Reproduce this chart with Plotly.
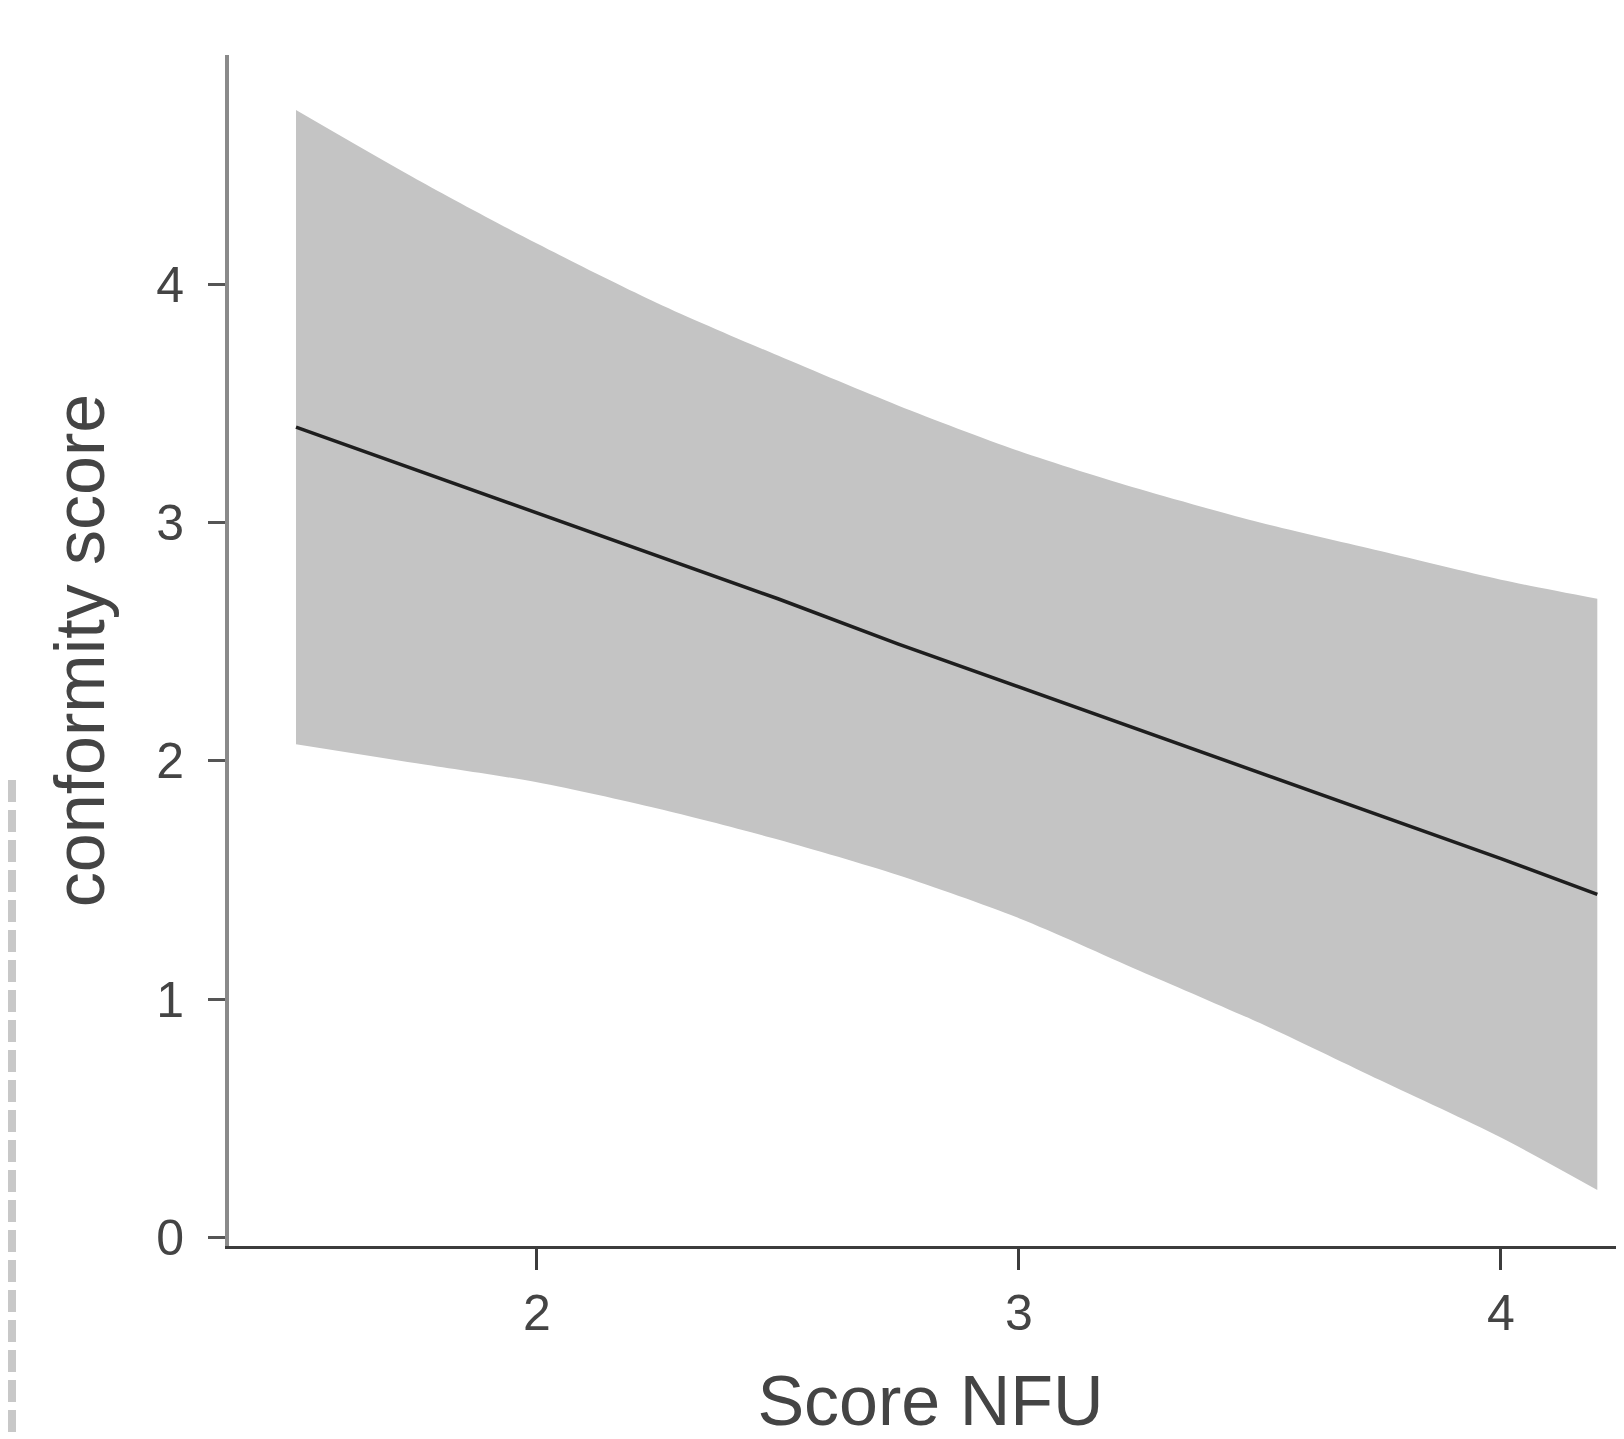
import plotly.graph_objects as go

# Values
nfu = [1.5, 1.75, 2.0, 2.25, 2.5, 2.75, 3.0, 3.25, 3.5, 3.75, 4.0, 4.2]
fit = [3.40, 3.22, 3.04, 2.86, 2.68, 2.49, 2.31, 2.13, 1.95, 1.77, 1.59, 1.44]
upper = [4.73, 4.44, 4.17, 3.92, 3.70, 3.49, 3.30, 3.14, 3.00, 2.88, 2.76, 2.68]
lower = [2.07, 1.99, 1.91, 1.80, 1.67, 1.52, 1.34, 1.12, 0.90, 0.66, 0.42, 0.20]

x_ticks = [2, 3, 4]
y_ticks = [0, 1, 2, 3, 4]

W, H = 1624, 1439
ML, MR, MT, MB = 221, 0, 47, 201

fig = go.Figure()
fig.add_trace(go.Scatter(
    x=nfu, y=lower, mode="lines",
    line=dict(width=0, shape="spline", smoothing=0.8),
    hoverinfo="skip", showlegend=False))
fig.add_trace(go.Scatter(
    x=nfu, y=upper, mode="lines", fill="tonexty", fillcolor="#C4C4C4",
    line=dict(width=0, shape="spline", smoothing=0.8),
    hoverinfo="skip", showlegend=False))
fig.add_trace(go.Scatter(
    x=nfu, y=fit, mode="lines",
    line=dict(color="#1e1e1e", width=3.5), showlegend=False))

font_family = "Liberation Sans, Arial, sans-serif"

fig.update_layout(
    width=W, height=H,
    margin=dict(l=ML, r=MR, t=MT, b=MB, autoexpand=False),
    paper_bgcolor="white", plot_bgcolor="white",
    font=dict(family=font_family, color="#444444"),
    xaxis=dict(
        range=[1.361, 4.272], tickvals=x_ticks, ticktext=[str(v) for v in x_ticks],
        showgrid=False, zeroline=False,
        showline=True, linecolor="#3c3c3c", linewidth=3,
        ticks="outside", ticklen=21, tickwidth=3, tickcolor="#3c3c3c",
        tickfont=dict(size=50, color="#444444", family=font_family),
        ticklabelstandoff=0,
        title=dict(text="Score NFU", font=dict(size=70, color="#444444", family=font_family),
                   standoff=36),
    ),
    yaxis=dict(
        range=[-0.035, 4.961], tickvals=y_ticks, ticktext=[str(v) for v in y_ticks],
        showgrid=False, zeroline=False,
        showline=True, linecolor="#8a8a8a", linewidth=4,
        ticks="outside", ticklen=17, tickwidth=3, tickcolor="#555555",
        tickfont=dict(size=50, color="#444444", family=font_family),
        ticklabelstandoff=14,
        title=dict(text="conformity score", font=dict(size=70, color="#444444", family=font_family),
                   standoff=30),
    ),
)

# dashed grey border fragment at the left edge of the picture
plot_w = W - ML - MR
plot_h = H - MT - MB
def px_to_paper_x(px):
    return (px - ML) / plot_w
def px_to_paper_y(py):
    return (H - MB - py) / plot_h

fig.add_shape(type="line", xref="paper", yref="paper",
              x0=px_to_paper_x(4), x1=px_to_paper_x(4),
              y0=px_to_paper_y(772), y1=px_to_paper_y(H),
              line=dict(color="#c8c8c8", width=8, dash="22px,8px"),
              layer="above")

fig.write_html("out.html")
